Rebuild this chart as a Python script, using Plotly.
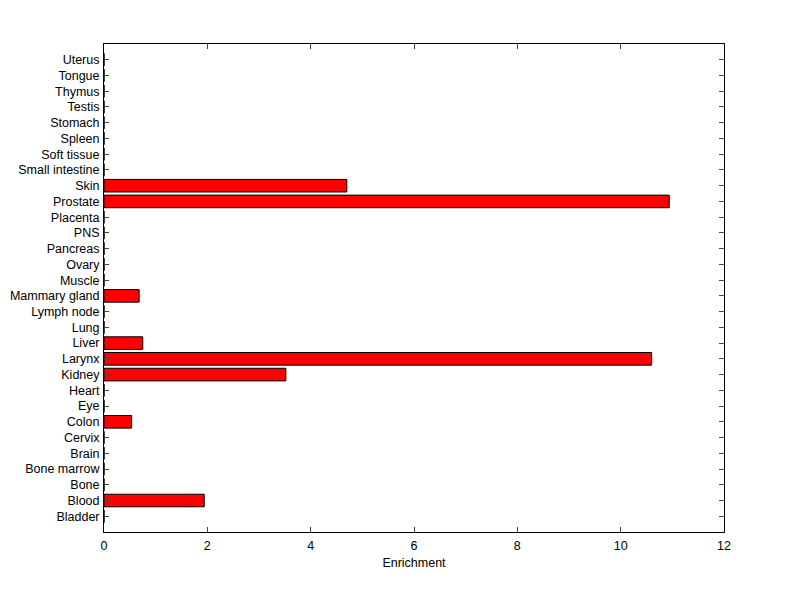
import plotly.graph_objects as go

categories = ["Bladder", "Blood", "Bone", "Bone marrow", "Brain", "Cervix", "Colon", "Eye",
              "Heart", "Kidney", "Larynx", "Liver", "Lung", "Lymph node", "Mammary gland",
              "Muscle", "Ovary", "Pancreas", "PNS", "Placenta", "Prostate", "Skin",
              "Small intestine", "Soft tissue", "Spleen", "Stomach", "Testis", "Thymus",
              "Tongue", "Uterus"]
enrichment = [0, 1.94, 0, 0, 0, 0, 0.535, 0, 0, 3.52, 10.60, 0.75, 0, 0, 0.68,
              0, 0, 0, 0, 0, 10.94, 4.70, 0, 0, 0, 0, 0, 0, 0, 0]
x_ticks = [0, 2, 4, 6, 8, 10, 12]

fig = go.Figure(go.Bar(
    x=enrichment, y=categories, orientation="h",
    width=0.8,
    marker=dict(color="#ff0000", line=dict(color="black", width=1)),
))

font = dict(family="Liberation Sans, Arial, sans-serif", size=12.5, color="black")
fig.update_layout(
    width=784, height=583,
    margin=dict(l=96, r=68, t=36, b=59),
    paper_bgcolor="white", plot_bgcolor="white",
    font=font, showlegend=False,
    xaxis=dict(range=[0, 12], tickmode="array", tickvals=x_ticks,
               ticks="inside", ticklen=5,
               showline=True, linecolor="black", linewidth=1, mirror="ticks",
               showgrid=False, zeroline=False, automargin=False,
               ticklabelstandoff=2,
               title=dict(text="Enrichment", font=font, standoff=6)),
    yaxis=dict(type="category", categoryorder="array", categoryarray=categories,
               tickmode="array", tickvals=categories, ticktext=categories,
               range=[-1, 30], ticks="inside", ticklen=5,
               showline=True, linecolor="black", linewidth=1, mirror="ticks",
               showgrid=False, zeroline=False, automargin=False,
               ticklabelstandoff=1),
)
fig.write_html("out.html")
